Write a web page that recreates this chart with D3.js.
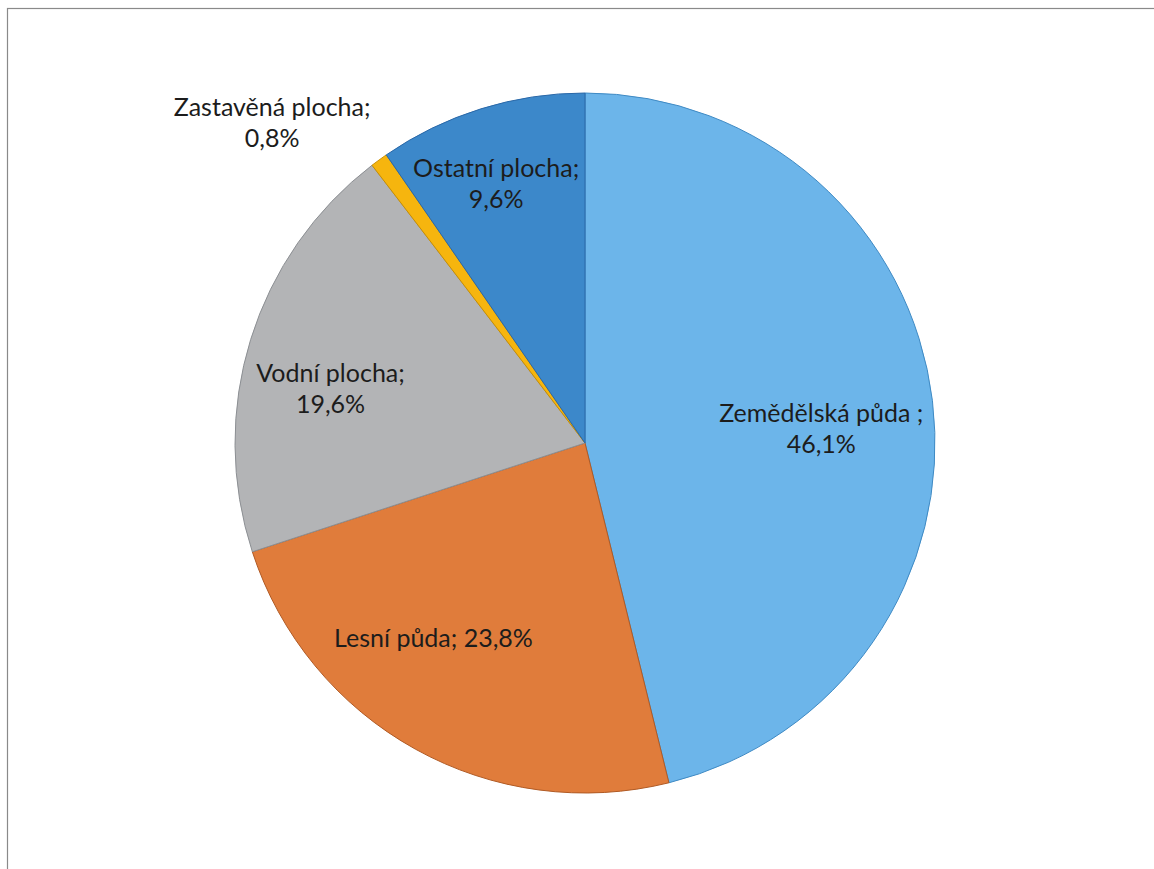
<!DOCTYPE html>
<html>
<head>
<meta charset="utf-8">
<script src="https://cdn.jsdelivr.net/npm/d3@7"></script>
<style>
  body { margin: 0; background: #fff; }
  svg text { font-family: Lato, "Open Sans", sans-serif; font-size: 25px; fill: #1c1c1c; }
</style>
</head>
<body>
<div id="chart"></div>
<script>
// Land use shares (%)
const categories = ["Zemědělská půda ", "Lesní půda", "Vodní plocha", "Zastavěná plocha", "Ostatní plocha"];
const values = [46.1, 23.8, 19.6, 0.8, 9.6];
const colors = ["#6cb5ea", "#e07c3b", "#b3b4b6", "#f6b50e", "#3c88ca"];
const strokes = ["#3f8ac4", "#b05a24", "#8c8f93", "#c98f00", "#2a68a8"];

const W = 1154, H = 869;
const cx = 585, cy = 443, radius = 350;

// label placement: radius factor, nudge, split into two lines?
const labelK = [0.68, 0.71, 0.80, 1.335, 0.777];
const labelNudge = [[0, 15], [-31, -22], [13, 29], [-38, 58], [-8, 1]];
const twoLines = [true, false, true, true, true];

const svg = d3.select("#chart").append("svg")
  .attr("width", W)
  .attr("height", H);

// outer chart border
svg.append("rect")
  .attr("x", 7.5).attr("y", 8.5)
  .attr("width", W + 10).attr("height", H + 10)
  .attr("fill", "none")
  .attr("stroke", "#8a8a8a")
  .attr("stroke-width", 1.2);

const data = categories.map((c, i) => ({ name: c, value: values[i], i }));

const pie = d3.pie().sort(null).value(d => d.value);
const arcs = pie(data);
const arc = d3.arc().innerRadius(0).outerRadius(radius);

const g = svg.append("g").attr("transform", `translate(${cx},${cy})`);

g.selectAll("path")
  .data(arcs)
  .enter()
  .append("path")
  .attr("d", arc)
  .attr("fill", d => colors[d.data.i])
  .attr("stroke", d => strokes[d.data.i])
  .attr("stroke-width", 1);

const fmt = v => v.toFixed(1).replace(".", ",") + "%";

arcs.forEach(d => {
  const i = d.data.i;
  const r = radius * labelK[i];
  const [x, y] = d3.arc().innerRadius(r).outerRadius(r).centroid(d);
  const lx = x + labelNudge[i][0], ly = y + labelNudge[i][1];
  const t = g.append("text").attr("text-anchor", "middle");
  if (twoLines[i]) {
    t.append("tspan").attr("x", lx).attr("y", ly - 7).text(d.data.name + ";");
    t.append("tspan").attr("x", lx).attr("y", ly + 24).text(fmt(d.data.value));
  } else {
    t.attr("x", lx).attr("y", ly + 9).text(d.data.name + "; " + fmt(d.data.value));
  }
});
</script>
</body>
</html>
